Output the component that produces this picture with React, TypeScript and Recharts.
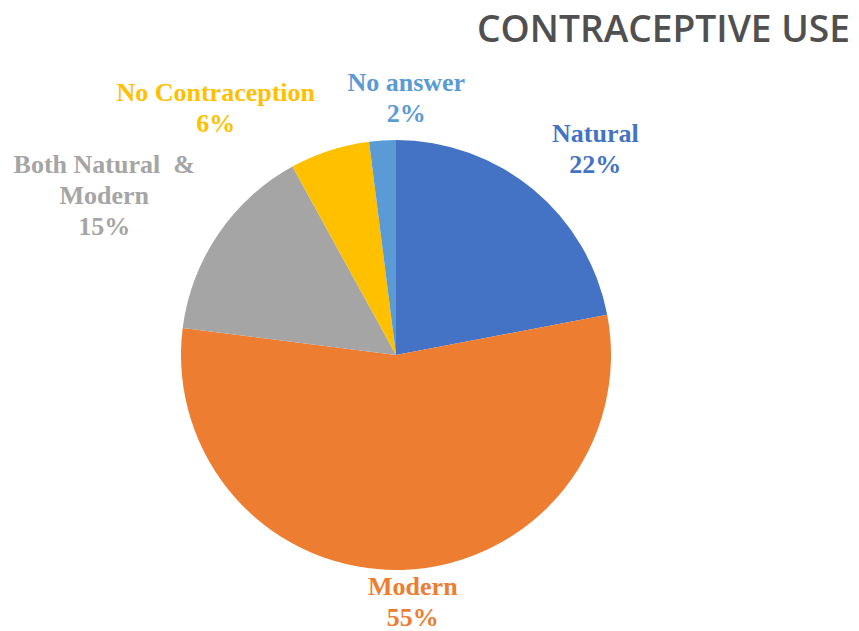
import React from 'react';
import { PieChart, Pie, Cell } from 'recharts';

const categories = ['Natural', 'Modern', 'Both Natural & Modern', 'No Contraception', 'No answer'];
const values = [22, 55, 15, 6, 2];
const colors = ['#4472C4', '#ED7D31', '#A5A5A5', '#FFC000', '#5B9BD5'];
const labelLines: string[][] = [['Natural'], ['Modern'], ['Both Natural  &', 'Modern'], ['No Contraception'], ['No answer']];

// label placement nudges (layout), relative to a point just outside the slice
const labelNudge: [number, number][] = [[40, -13], [9, -2], [-85, -18], [-103, -9], [26, -7]];

const data = categories.map((name, i) => ({ name, value: values[i] }));

const RAD = Math.PI / 180;
const LINE = 31;

const renderLabel = (props: any) => {
  const { cx, cy, midAngle, outerRadius, percent, index } = props;
  const r = outerRadius + 35;
  const x = cx + r * Math.cos(-midAngle * RAD) + labelNudge[index][0];
  const y = cy + r * Math.sin(-midAngle * RAD) + labelNudge[index][1];
  const lines = [...labelLines[index], `${Math.round(percent * 100)}%`];
  const total = lines.length;
  const firstBaseline = y - ((total - 1) * LINE) / 2 + 8;
  return (
    <text
      key={`lbl-${index}`}
      x={x}
      y={firstBaseline}
      textAnchor="middle"
      fill={colors[index]}
      style={{ fontFamily: '"Liberation Serif", "Times New Roman", serif', fontWeight: 700, fontSize: 26 }}
    >
      {lines.map((ln, i) => (
        <tspan key={i} x={x} y={firstBaseline + i * LINE} style={{ whiteSpace: 'pre' }}>
          {ln}
        </tspan>
      ))}
    </text>
  );
};

export default function App() {
  return (
    <div style={{ position: 'absolute', left: 0, top: 0, width: 859, height: 631, background: '#ffffff' }}>
      <PieChart width={859} height={631} margin={{ top: 0, right: 0, bottom: 0, left: 0 }}>
        <Pie
          data={data}
          dataKey="value"
          nameKey="name"
          cx={396}
          cy={355}
          outerRadius={215}
          startAngle={90}
          endAngle={-270}
          stroke="none"
          labelLine={false}
          label={renderLabel}
          isAnimationActive={false}
        >
          {data.map((d, i) => (
            <Cell key={d.name} fill={colors[i]} />
          ))}
        </Pie>
      </PieChart>
      <svg width={859} height={80} style={{ position: 'absolute', left: 0, top: 0 }}>
        <text
          x={477}
          y={42}
          textLength={373}
          lengthAdjust="spacingAndGlyphs"
          fill="#505050"
          style={{ fontFamily: '"Open Sans", sans-serif', fontWeight: 600, fontSize: 38 }}
        >
          CONTRACEPTIVE USE
        </text>
      </svg>
    </div>
  );
}
